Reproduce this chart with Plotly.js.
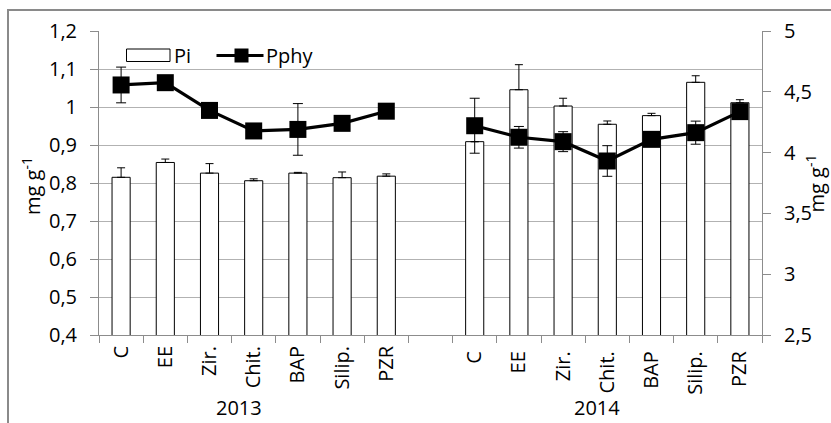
<!DOCTYPE html>
<html>
<head>
<meta charset="utf-8">
<script src="https://cdn.plot.ly/plotly-3.0.1.min.js"></script>
<style>html,body{margin:0;padding:0;background:#fff;}#chart{width:831px;height:423px;}</style>
</head>
<body>
<div id="chart"></div>
<script>
// ---- data ----
const treatments = ["C", "EE", "Zir.", "Chit.", "BAP", "Silip.", "PZR"];
const yearLabels = ["2013", "2014"];
const seriesNames = ["Pi", "Pphy"];

// 2013 — left axis (mg g-1)
const pi2013      = [0.815, 0.854, 0.826, 0.806, 0.826, 0.814, 0.818];
const pi2013Err   = [0.025, 0.009, 0.025, 0.005, 0.002, 0.015, 0.006];
const pphy2013    = [1.058, 1.064, 0.991, 0.937, 0.941, 0.957, 0.989];
const pphy2013Err = [0.047, 0.010, 0.010, 0.010, 0.068, 0.010, 0.010];

// 2014 — right axis (mg g-1)
const pi2014      = [4.090, 4.517, 4.383, 4.233, 4.304, 4.578, 4.410];
const pi2014Err   = [0.000, 0.206, 0.064, 0.027, 0.019, 0.054, 0.025];
const pphy2014    = [4.221, 4.126, 4.090, 3.931, 4.109, 4.164, 4.337];
const pphy2014Err = [0.226, 0.089, 0.082, 0.126, 0.010, 0.095, 0.010];

// category keys: 2013 names, a blank gap slot, 2014 names (trailing space keeps them distinct)
const cats2013 = treatments.slice();
const cats2014 = treatments.map(t => t + " ");
const gapCat = "  ";
const allCats = cats2013.concat([gapCat], cats2014);

// ---- layout helpers (pixel -> paper) ----
const W = 831, H = 423;
const M = {l: 99, r: 69, t: 31, b: 88};
const PW = W - M.l - M.r, PH = H - M.t - M.b;
const px = p => (p - M.l) / PW;
const py = p => (H - M.b - p) / PH;

const FONT = "Open Sans, Noto Sans, DejaVu Sans, sans-serif";
const FS = 20;
const GRID = "#b2b2b2";
const AXIS = "#8c8c8c";

const barStyle = {
  type: "bar", width: 0.41,
  marker: {color: "#ffffff", line: {color: "#000000", width: 1}},
  showlegend: false, hoverinfo: "x+y"
};
const lineStyle = {
  type: "scatter", mode: "lines+markers",
  line: {color: "#000000", width: 3.2},
  marker: {symbol: "square", size: 17, color: "#000000"},
  showlegend: false, hoverinfo: "x+y"
};

const traces = [
  Object.assign({}, barStyle, {
    name: seriesNames[0] + " " + yearLabels[0], x: cats2013, y: pi2013, yaxis: "y",
    error_y: {type: "data", symmetric: false, array: pi2013Err, arrayminus: pi2013Err.map(() => 0),
              color: "#000", thickness: 1, width: 4}
  }),
  Object.assign({}, lineStyle, {
    name: seriesNames[1] + " " + yearLabels[0], x: cats2013, y: pphy2013, yaxis: "y",
    error_y: {type: "data", array: pphy2013Err, color: "#000", thickness: 1, width: 5}
  }),
  Object.assign({}, barStyle, {
    name: seriesNames[0] + " " + yearLabels[1], x: cats2014, y: pi2014, yaxis: "y2",
    error_y: {type: "data", symmetric: false, array: pi2014Err, arrayminus: pi2014Err.map(() => 0),
              color: "#000", thickness: 1, width: 4}
  }),
  Object.assign({}, lineStyle, {
    name: seriesNames[1] + " " + yearLabels[1], x: cats2014, y: pphy2014, yaxis: "y2",
    error_y: {type: "data", array: pphy2014Err, color: "#000", thickness: 1, width: 5}
  })
];

const layout = {
  width: W, height: H,
  margin: M,
  paper_bgcolor: "#ffffff", plot_bgcolor: "#ffffff",
  font: {family: FONT, size: FS, color: "#000000"},
  separators: ", ",
  barmode: "overlay",
  showlegend: false,
  xaxis: {
    type: "category", categoryorder: "array", categoryarray: allCats,
    range: [-0.5, allCats.length - 0.5],
    tickmode: "linear", tick0: 0, dtick: 1,
    tickson: "boundaries", ticks: "outside", ticklen: 7, tickcolor: AXIS, tickwidth: 1,
    tickangle: -90, ticklabelstandoff: 2,
    showline: true, linecolor: AXIS, linewidth: 1,
    showgrid: false, zeroline: false, fixedrange: true,
    tickfont: {family: FONT, size: FS}
  },
  yaxis: {
    range: [0.4, 1.2], tick0: 0.4, dtick: 0.1,
    ticks: "outside", ticklen: 8, tickcolor: AXIS,
    showline: true, linecolor: AXIS, linewidth: 1,
    showgrid: true, gridcolor: GRID, gridwidth: 1,
    zeroline: false, fixedrange: true, ticklabelstandoff: 9,
    tickfont: {family: FONT, size: FS}
  },
  yaxis2: {
    overlaying: "y", side: "right", anchor: "x",
    range: [2.5, 5], tick0: 2.5, dtick: 0.5,
    ticks: "outside", ticklen: 8, tickcolor: AXIS,
    showline: true, linecolor: AXIS, linewidth: 1,
    showgrid: false, zeroline: false, fixedrange: true, ticklabelstandoff: 9,
    tickfont: {family: FONT, size: FS}
  },
  shapes: [
    // chart-area border (runs off the right and bottom edge as in the reference)
    {type: "rect", xref: "paper", yref: "paper", x0: px(8), x1: px(900), y0: py(500), y1: py(10),
     line: {color: "#8a8a8a", width: 2}, fillcolor: "rgba(0,0,0,0)", layer: "below"},
    // legend: Pi box
    {type: "rect", xref: "paper", yref: "paper", x0: px(126.5), x1: px(170), y0: py(61.5), y1: py(49),
     line: {color: "#000000", width: 1}, fillcolor: "#ffffff"},
    // legend: Pphy line + square marker
    {type: "line", xref: "paper", yref: "paper", x0: px(216.5), x1: px(263.5), y0: py(55.5), y1: py(55.5),
     line: {color: "#000000", width: 3.2}},
    {type: "rect", xref: "paper", yref: "paper", x0: px(234.5), x1: px(248.5), y0: py(62.5), y1: py(48.5),
     line: {width: 0}, fillcolor: "#000000"}
  ],
  annotations: [
    {text: seriesNames[0], xref: "paper", yref: "paper", x: px(172), y: py(55.5),
     xanchor: "left", yanchor: "middle", showarrow: false, font: {family: FONT, size: FS}},
    {text: seriesNames[1], xref: "paper", yref: "paper", x: px(264), y: py(55.5),
     xanchor: "left", yanchor: "middle", showarrow: false, font: {family: FONT, size: FS}},
    {text: yearLabels[0], xref: "paper", yref: "paper", x: px(239), y: py(422),
     xanchor: "center", yanchor: "bottom", borderpad: 0, showarrow: false, font: {family: FONT, size: FS}},
    {text: yearLabels[1], xref: "paper", yref: "paper", x: px(597), y: py(422),
     xanchor: "center", yanchor: "bottom", borderpad: 0, showarrow: false, font: {family: FONT, size: FS}},
    {text: "mg g<sup>-1</sup>", xref: "paper", yref: "paper", x: px(31), y: py(186),
     xanchor: "center", yanchor: "middle", textangle: -90, showarrow: false, font: {family: FONT, size: FS}},
    {text: "mg g<sup>-1</sup>", xref: "paper", yref: "paper", x: px(830), y: py(184),
     xanchor: "right", yanchor: "middle", textangle: -90, borderpad: 0, showarrow: false, font: {family: FONT, size: FS}}
  ]
};

Plotly.newPlot("chart", traces, layout, {staticPlot: true, displayModeBar: false});
</script>
</body>
</html>
